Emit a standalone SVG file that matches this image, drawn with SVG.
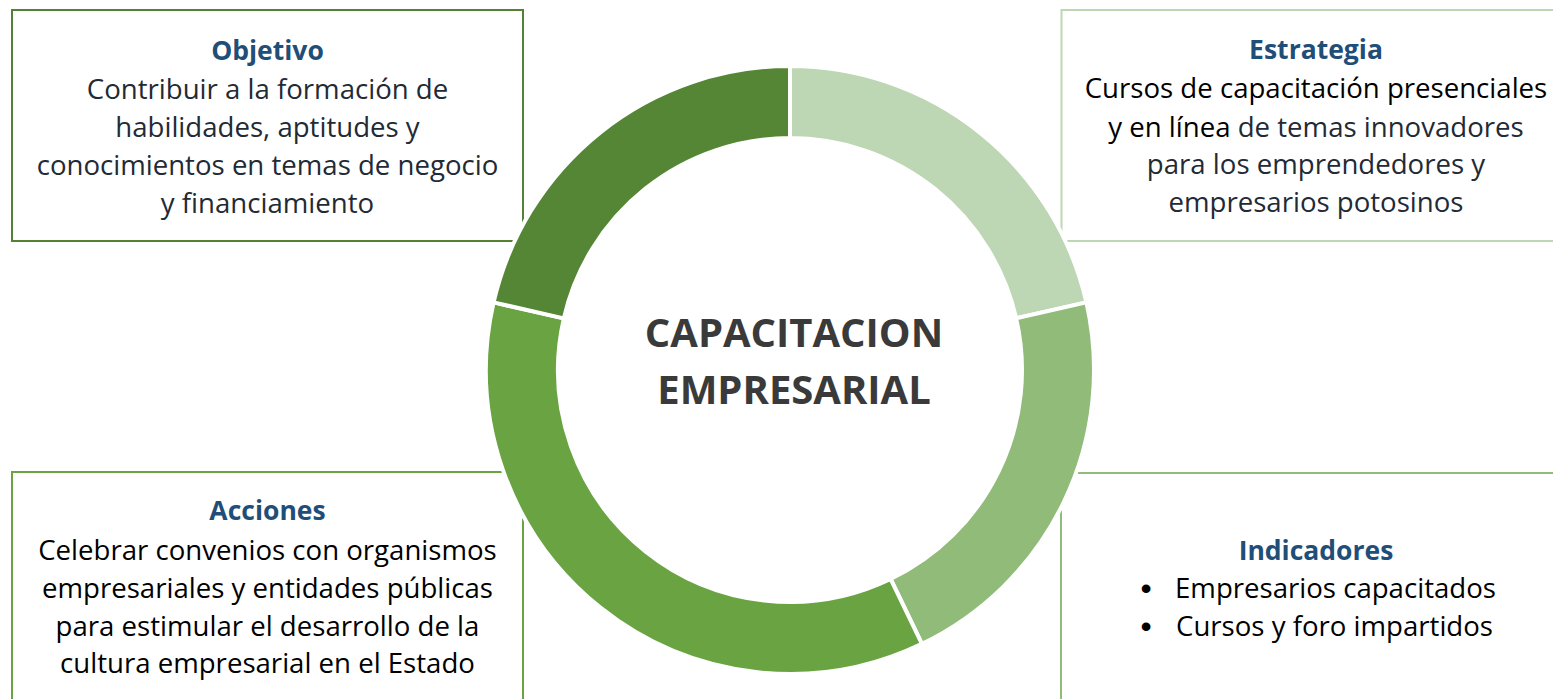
<svg xmlns="http://www.w3.org/2000/svg" width="1553" height="699" viewBox="0 0 1553 699">
<style>
  .box { fill: #FFFFFF; stroke-width: 2; }
  .head { font-family: "Open Sans", "Liberation Sans", sans-serif; font-weight: bold; font-size: 26.5px; fill: #1F4E79; text-anchor: middle; }
  .body { font-family: "Open Sans", "Liberation Sans", sans-serif; font-size: 27.6px; fill: #222A35; text-anchor: middle; }
  .blk { fill: #000000; }
  .bul { font-family: "Liberation Sans", "Arial", sans-serif; font-size: 32px; fill: #000000; text-anchor: middle; }
  .seg { stroke: #FFFFFF; stroke-width: 4; stroke-linejoin: miter; }
  .title { font-family: "Open Sans", "Liberation Sans", sans-serif; font-weight: bold; font-size: 40px; fill: #3A3A3A; text-anchor: middle; }
</style>
<rect width="1553" height="699" fill="#FFFFFF"/>

<g id="objetivo">
  <rect class="box" x="12" y="10" width="511" height="231" stroke="#548235"/>
  <text class="head" x="267.5" y="60">Objetivo</text>
  <text class="body" x="267.5" y="98.5">Contribuir a la formación de</text>
  <text class="body" x="267.5" y="136.5">habilidades, aptitudes y</text>
  <text class="body" x="267.5" y="174.5">conocimientos en temas de negocio</text>
  <text class="body" x="267.5" y="212.5">y financiamiento</text>
</g>

<g id="estrategia">
  <rect class="box" x="1061.5" y="10" width="520" height="231" stroke="#BDD7B4"/>
  <text class="head" x="1316" y="59">Estrategia</text>
  <text class="body blk" x="1316" y="98">Cursos de capacitación presenciales</text>
  <text class="body" x="1316" y="136.5"><tspan class="blk">y en línea</tspan> de temas innovadores</text>
  <text class="body" x="1316" y="174">para los emprendedores y</text>
  <text class="body" x="1316" y="212">empresarios potosinos</text>
</g>

<g id="acciones">
  <rect class="box" x="12" y="472" width="511" height="260" stroke="#6AA342"/>
  <text class="head" x="267.5" y="520">Acciones</text>
  <text class="body blk" x="267.5" y="560">Celebrar convenios con organismos</text>
  <text class="body blk" x="267.5" y="598">empresariales y entidades públicas</text>
  <text class="body blk" x="267.5" y="636">para estimular el desarrollo de la</text>
  <text class="body blk" x="267.5" y="673">cultura empresarial en el Estado</text>
</g>

<g id="indicadores">
  <rect class="box" x="1061" y="473" width="520" height="260" stroke="#90BC7A"/>
  <text class="head" x="1316" y="560">Indicadores</text>
  <text class="bul" x="1146" y="599">•</text>
  <text class="body blk" x="1175" y="598" style="text-anchor:start">Empresarios capacitados</text>
  <text class="bul" x="1146" y="637">•</text>
  <text class="body blk" x="1176" y="636" style="text-anchor:start">Cursos y foro impartidos</text>
</g>

<g id="ring">
  <path class="seg" fill="#BDD6B3" d="M 790 66 A 304 304 0 0 1 1086.38 302.35 L 1016.18 318.38 A 232 232 0 0 0 790 138 Z"/>
  <path class="seg" fill="#90BB79" d="M 1086.38 302.35 A 304 304 0 0 1 921.90 643.89 L 890.66 579.03 A 232 232 0 0 0 1016.18 318.38 Z"/>
  <path class="seg" fill="#69A342" d="M 921.90 643.89 A 304 304 0 0 1 493.62 302.35 L 563.82 318.38 A 232 232 0 0 0 890.66 579.03 Z"/>
  <path class="seg" fill="#558636" d="M 493.62 302.35 A 304 304 0 0 1 790 66 L 790 138 A 232 232 0 0 0 563.82 318.38 Z"/>
</g>

<g id="center">
  <text class="title" x="794" y="347">CAPACITACION</text>
  <text class="title" x="794" y="403.5">EMPRESARIAL</text>
</g>

<g id="connectors"></g>
</svg>
